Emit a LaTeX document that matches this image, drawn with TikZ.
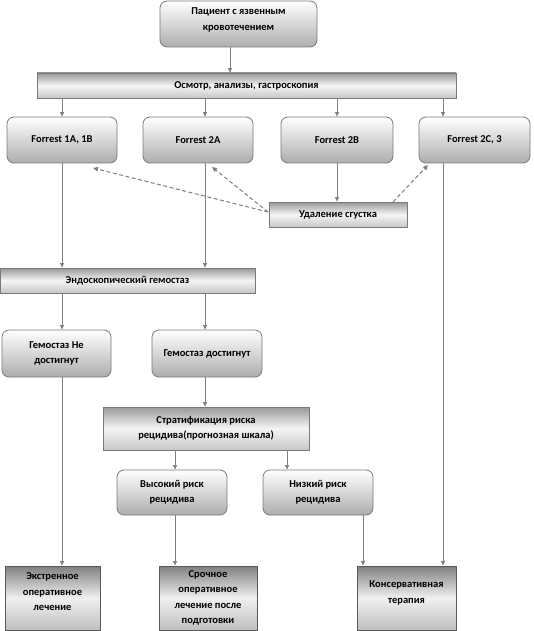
\documentclass[tikz,border=0pt]{standalone}
\usepackage{fontspec}
\setmainfont{Carlito}
\usetikzlibrary{arrows.meta}
\definecolor{lnc}{HTML}{808080}
\definecolor{bdc}{HTML}{7A7A7A}
\begin{document}
\begin{tikzpicture}[x=1pt,y=-1pt,
  every node/.style={font=\bfseries\fontsize{10.5}{15.5}\selectfont, align=center, inner sep=0pt, text=black},
  rbox/.style={draw=bdc, line width=0.8pt, rounded corners=7pt, top color=white, bottom color=black!32, minimum height=46pt},
  bar/.style={draw=bdc, line width=0.8pt, top color=black!40, bottom color=black!22, middle color=white!96!black, minimum height=25pt},
  sbox/.style={draw=black!65, line width=1pt, top color=black!50, bottom color=black!25, middle color=white!94!black, minimum height=64pt},
  arr/.style={draw=lnc, line width=0.8pt, -{Triangle[length=4.5pt,width=4pt]}},
  darr/.style={draw=lnc, line width=1pt, dashed, dash pattern=on 4pt off 2.5pt, -{Triangle[length=5pt,width=4.5pt]}}
]
\useasboundingbox (0,0) rectangle (533,631);

% nodes
\node[rbox, minimum width=157pt, text depth=10pt] (pat) at (238.5,24) {Пациент с язвенным\\кровотечением};
\node[bar, minimum width=419pt] (osm) at (246.5,85.5) {Осмотр, анализы, гастроскопия};
\node[rbox, minimum width=110pt] (f1) at (62,140) {Forrest 1A, 1B};
\node[rbox, minimum width=110pt] (f2a) at (198,140) {Forrest 2A};
\node[rbox, minimum width=112pt] (f2b) at (337,140) {Forrest 2B};
\node[rbox, minimum width=111pt] (f2c) at (474.5,140) {Forrest 2C, 3};
\node[bar, minimum width=138pt] (ud) at (338,214.5) {Удаление сгустка};
\node[bar, minimum width=255pt] (endo) at (127.5,280.5) {Эндоскопический гемостаз};
\node[rbox, minimum width=109pt, minimum height=47pt] (gn) at (56.5,353.5) {Гемостаз Не\\достигнут};
\node[rbox, minimum width=110pt, minimum height=47pt] (gd) at (207,353.5) {Гемостаз достигнут};
\node[bar, minimum width=206pt, minimum height=43pt] (strat) at (206,428.5) {Стратификация риска\\рецидива(прогнозная шкала)};
\node[rbox, minimum width=110pt, minimum height=45pt] (vr) at (172,492.5) {Высокий риск\\рецидива};
\node[rbox, minimum width=110pt, minimum height=45pt] (nr) at (318,492.5) {Низкий риск\\рецидива};
\node[sbox, minimum width=95pt, text depth=12pt] (ex) at (52.5,598) {Экстренное\\оперативное\\лечение};
\node[sbox, minimum width=98pt] (sr) at (208,598) {Срочное\\оперативное\\лечение после\\подготовки};
\node[sbox, minimum width=99pt, text depth=12pt] (kons) at (406.5,598) {Консервативная\\терапия};

% vertical line positions
\coordinate (xa) at (230,0);
\coordinate (x1) at (62,0);
\coordinate (x2) at (205,0);
\coordinate (x3) at (337,0);
\coordinate (x4) at (443,0);
\coordinate (x5) at (175,0);
\coordinate (x6) at (287,0);
\coordinate (x7) at (363,0);
% dashed arrow ends
\coordinate (t1) at (93,168);
\coordinate (t2) at (212,167);
\coordinate (t3) at (428,165);
\coordinate (s1) at (268,212);
\coordinate (s3) at (393,202);

\draw[arr] (pat.south -| xa) -- (osm.north -| xa);
\draw[arr] (osm.south -| x1) -- (f1.north -| x1);
\draw[arr] (osm.south -| x2) -- (f2a.north -| x2);
\draw[arr] (osm.south -| x3) -- (f2b.north -| x3);
\draw[arr] (osm.south -| x4) -- (f2c.north -| x4);
\draw[arr] (f2b.south -| x3) -- (ud.north -| x3);
\draw[arr] (f1.south -| x1) -- (endo.north -| x1);
\draw[arr] (f2a.south -| x2) -- (endo.north -| x2);
\draw[arr] (endo.south -| x1) -- (gn.north -| x1);
\draw[arr] (endo.south -| x2) -- (gd.north -| x2);
\draw[arr] (gd.south -| x2) -- (strat.north -| x2);
\draw[arr] (strat.south -| x5) -- (vr.north -| x5);
\draw[arr] (strat.south -| x6) -- (nr.north -| x6);
\draw[arr] (gn.south -| x1) -- (ex.north -| x1);
\draw[arr] (vr.south -| x5) -- (sr.north -| x5);
\draw[arr] (nr.south -| x7) -- (kons.north -| x7);
\draw[arr] (f2c.south -| x4) -- (kons.north -| x4);

\draw[darr] (s1) -- (t1);
\draw[darr] (s1) -- (t2);
\draw[darr] (s3) -- (t3);
\end{tikzpicture}
\end{document}
